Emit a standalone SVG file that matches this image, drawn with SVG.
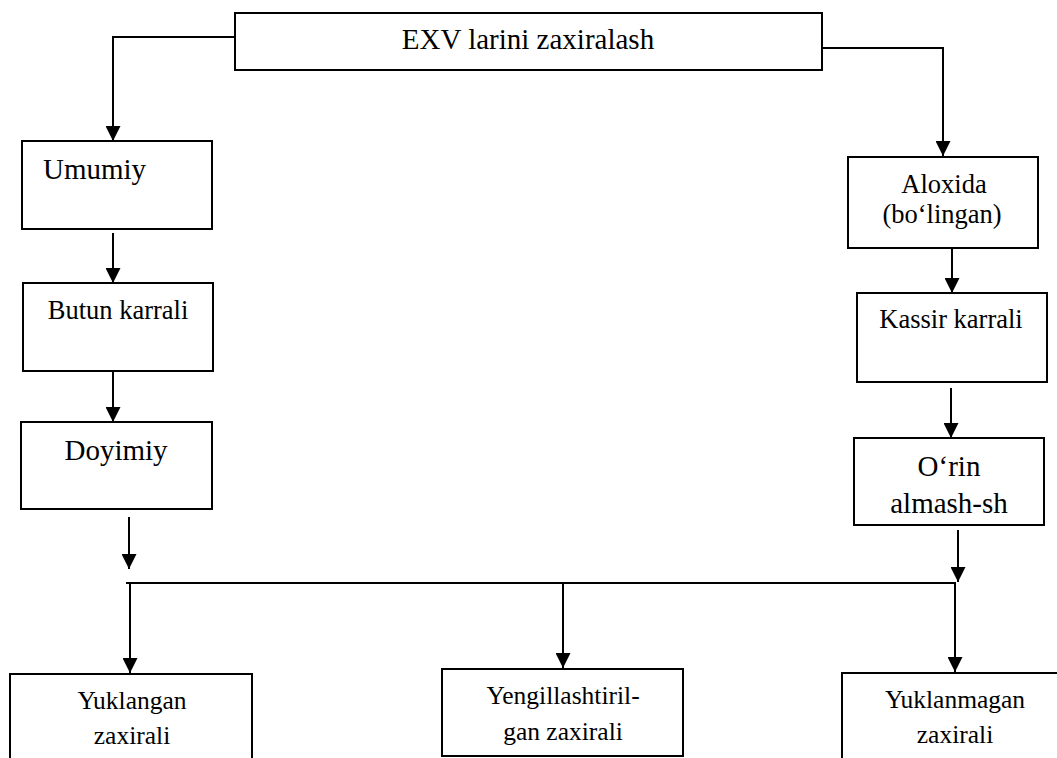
<svg xmlns="http://www.w3.org/2000/svg" width="1057" height="758" viewBox="0 0 1057 758" font-family="'Liberation Serif', 'Times New Roman', serif">
<style>
.box{fill:#fff;stroke:#000;stroke-width:2}
.c{fill:none;stroke:#000;stroke-width:2}
text{font-family:'Liberation Serif','Times New Roman',serif;fill:#000}
.l{font-size:29px}
.m{font-size:26.5px}
.s{font-size:25.5px}
.mid{text-anchor:middle}
</style>
<defs>
<marker id="ah" viewBox="0 0 15 15" refX="15" refY="7.5" markerWidth="15" markerHeight="15" orient="auto" markerUnits="userSpaceOnUse">
<path d="M0,0 L15,7.5 L0,15 z" fill="#000"/>
</marker>
</defs>
<g id="connectors">
<path class="c" d="M235,37 H113 V141" marker-end="url(#ah)"/>
<path class="c" d="M822,48 H943 V156" marker-end="url(#ah)"/>
<path class="c" d="M113,233 V283" marker-end="url(#ah)"/>
<path class="c" d="M113,371 V422" marker-end="url(#ah)"/>
<path class="c" d="M129,517 V569" marker-end="url(#ah)"/>
<path class="c" d="M126,583 H956"/>
<path class="c" d="M130,583 V673" marker-end="url(#ah)"/>
<path class="c" d="M563,583 V668" marker-end="url(#ah)"/>
<path class="c" d="M955,583 V672" marker-end="url(#ah)"/>
<path class="c" d="M952,248 V293" marker-end="url(#ah)"/>
<path class="c" d="M951,388 V438" marker-end="url(#ah)"/>
<path class="c" d="M958,530 V582" marker-end="url(#ah)"/>
</g>
<g id="n-top">
<rect class="box" x="235" y="13" width="587" height="57"/>
<text class="l mid" x="528" y="49">EXV larini zaxiralash</text>
</g>
<g id="n-umumiy">
<rect class="box" x="22" y="141" width="190" height="88"/>
<text class="l" x="43" y="179">Umumiy</text>
</g>
<g id="n-butun">
<rect class="box" x="23" y="283" width="190" height="88"/>
<text class="m mid" x="118" y="319">Butun karrali</text>
</g>
<g id="n-doyimiy">
<rect class="box" x="21" y="422" width="191" height="87"/>
<text class="l mid" x="116" y="460">Doyimiy</text>
</g>
<g id="n-aloxida">
<rect class="box" x="848" y="157" width="190" height="91"/>
<text class="m mid" x="944" y="193">Aloxida</text>
<text class="m mid" x="942" y="223">(bo‘lingan)</text>
</g>
<g id="n-kassir">
<rect class="box" x="857" y="293" width="190" height="89"/>
<text class="m mid" x="951" y="328">Kassir karrali</text>
</g>
<g id="n-orin">
<rect class="box" x="854" y="438" width="190" height="87"/>
<text class="l mid" x="949" y="476">O‘rin</text>
<text class="l mid" x="949" y="513">almash-sh</text>
</g>
<g id="n-yuklangan">
<rect class="box" x="10" y="674" width="242" height="95"/>
<text class="s mid" x="132" y="709">Yuklangan</text>
<text class="s mid" x="132" y="744">zaxirali</text>
</g>
<g id="n-yengil">
<rect class="box" x="442" y="669" width="241" height="87"/>
<text class="s mid" x="563" y="704">Yengillashtiril-</text>
<text class="s mid" x="563" y="740">gan zaxirali</text>
</g>
<g id="n-yuklanmagan">
<rect class="box" x="842" y="673" width="230" height="95"/>
<text class="s mid" x="955" y="708">Yuklanmagan</text>
<text class="s mid" x="955" y="743">zaxirali</text>
</g>
</svg>
